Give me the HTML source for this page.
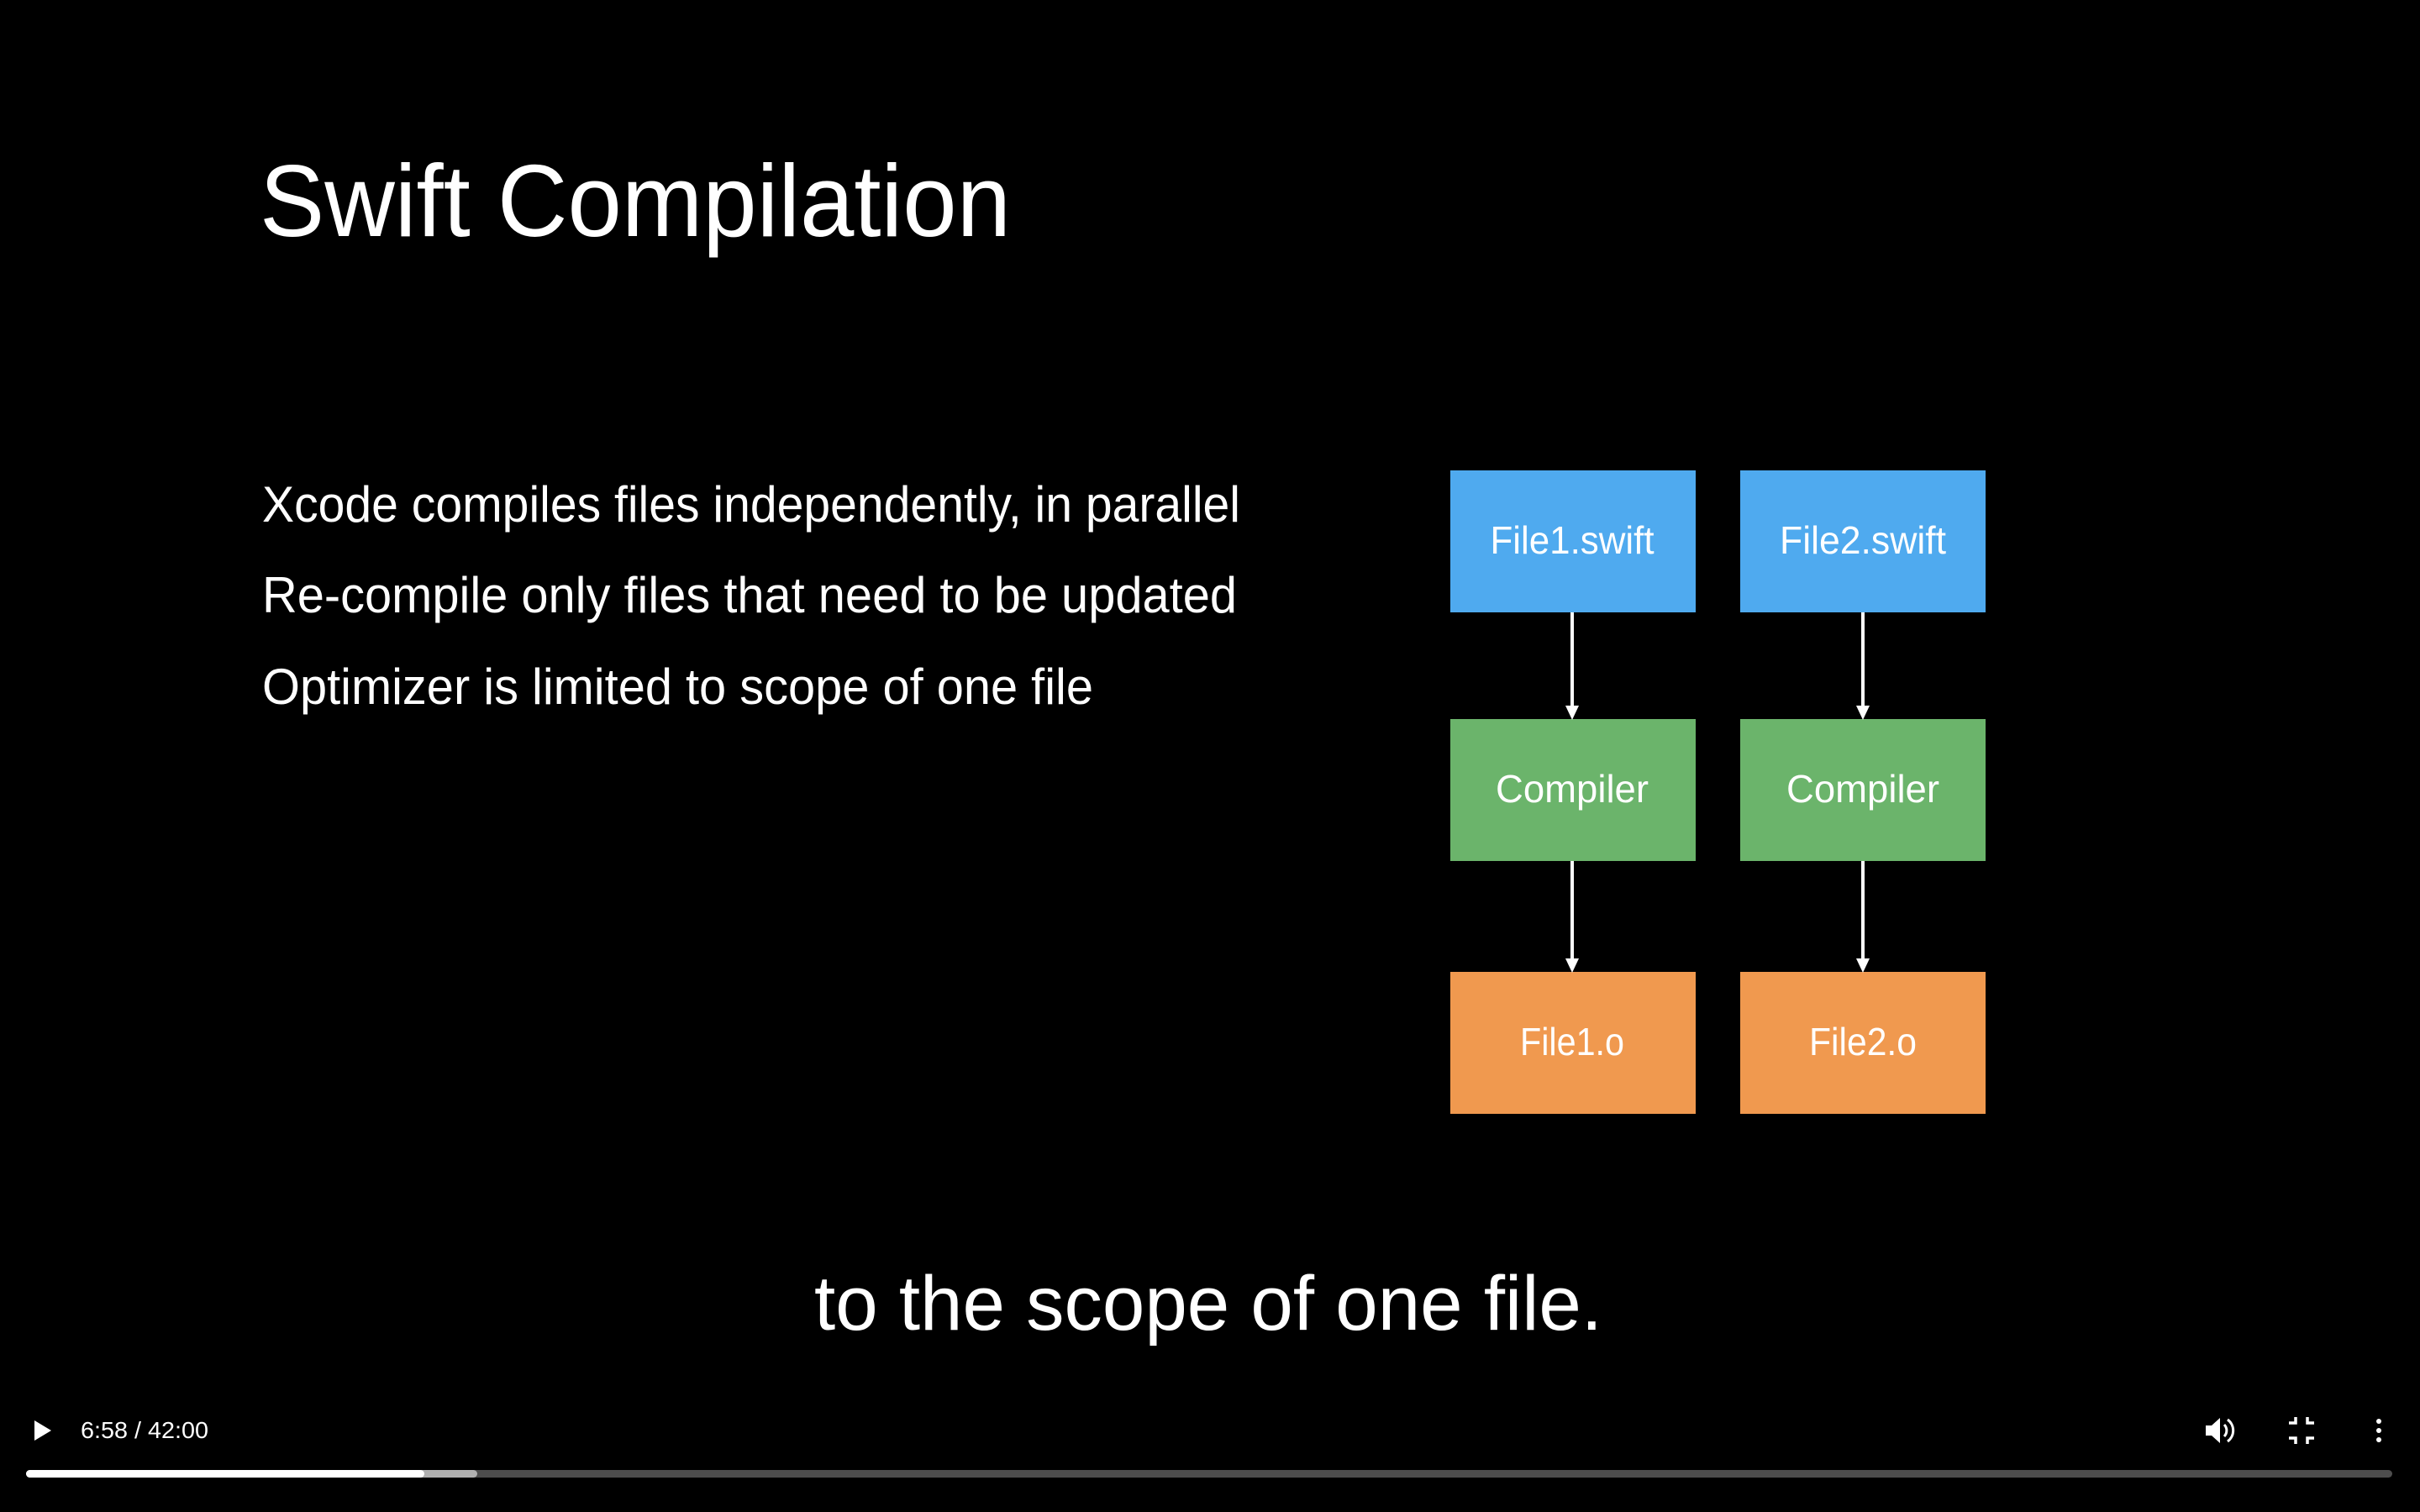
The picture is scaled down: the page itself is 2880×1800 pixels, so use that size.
<!DOCTYPE html>
<html><head><style>
html,body{margin:0;padding:0;background:#000;width:2880px;height:1800px;overflow:hidden}
svg{display:block}
text{font-family:"Liberation Sans",sans-serif;fill:#fff}
</style></head><body>
<svg width="2880" height="1800" viewBox="0 0 2880 1800" xmlns="http://www.w3.org/2000/svg">
<rect width="2880" height="1800" fill="#000"/>
<text x="309" y="281" font-size="122" textLength="894" lengthAdjust="spacingAndGlyphs">Swift Compilation</text>
<g font-size="60" fill="#eee">
<text x="312" y="621" textLength="1164" lengthAdjust="spacingAndGlyphs">Xcode compiles files independently, in parallel</text>
<text x="312" y="729" textLength="1160" lengthAdjust="spacingAndGlyphs">Re-compile only files that need to be updated</text>
<text x="312" y="838" textLength="989" lengthAdjust="spacingAndGlyphs">Optimizer is limited to scope of one file</text>
</g>
<g>
<rect x="1726" y="560" width="292" height="169" fill="#4faaef"/>
<rect x="2071" y="560" width="292" height="169" fill="#4faaef"/>
<rect x="1726" y="856" width="292" height="169" fill="#6bb46b"/>
<rect x="2071" y="856" width="292" height="169" fill="#6bb46b"/>
<rect x="1726" y="1157" width="292" height="169" fill="#f0994f"/>
<rect x="2071" y="1157" width="292" height="169" fill="#f0994f"/>
</g>
<g stroke="#fff" stroke-width="4">
<line x1="1871" y1="729" x2="1871" y2="842"/>
<line x1="2217" y1="729" x2="2217" y2="842"/>
<line x1="1871" y1="1025" x2="1871" y2="1143"/>
<line x1="2217" y1="1025" x2="2217" y2="1143"/>
</g>
<g fill="#fff">
<polygon points="1863,840 1879,840 1871,857"/>
<polygon points="2209,840 2225,840 2217,857"/>
<polygon points="1863,1141 1879,1141 1871,1158"/>
<polygon points="2209,1141 2225,1141 2217,1158"/>
</g>
<g font-size="46" text-anchor="middle" fill="#f4f4f4">
<text x="1871" y="659" textLength="195" lengthAdjust="spacingAndGlyphs">File1.swift</text>
<text x="2217" y="659" textLength="198" lengthAdjust="spacingAndGlyphs">File2.swift</text>
<text x="1871" y="955" textLength="182" lengthAdjust="spacingAndGlyphs">Compiler</text>
<text x="2217" y="955" textLength="182" lengthAdjust="spacingAndGlyphs">Compiler</text>
<text x="1871" y="1256" textLength="124" lengthAdjust="spacingAndGlyphs">File1.o</text>
<text x="2217" y="1256" textLength="128" lengthAdjust="spacingAndGlyphs">File2.o</text>
</g>
<text x="1438" y="1583" font-size="92" text-anchor="middle" textLength="938" lengthAdjust="spacingAndGlyphs">to the scope of one file.</text>
<polygon points="41,1691 41,1715 61,1703" fill="#fff"/>
<text x="96" y="1712" font-size="28" textLength="152" lengthAdjust="spacingAndGlyphs">6:58 / 42:00</text>
<rect x="31" y="1750" width="2816" height="9" rx="4.5" fill="#4d4d4d"/>
<rect x="31" y="1750" width="537" height="9" rx="4.5" fill="#b0b0b0"/>
<rect x="31" y="1750" width="474" height="9" rx="4.5" fill="#fff"/>
<g fill="#fff">
<polygon points="2625,1697 2632,1697 2642,1688 2642,1718 2632,1709 2625,1709"/>
<path d="M2647,1696 a10,10 0 0 1 0,14" stroke="#fff" stroke-width="3" fill="none"/>
<path d="M2651,1690 a16,16 0 0 1 0,26" stroke="#fff" stroke-width="3" fill="none"/>
<path d="M2724,1694 h8 v-7 M2746,1687 v7 h8 M2724,1712 h8 v7 M2746,1719 v-7 h8" stroke="#fff" stroke-width="3.5" fill="none"/>
<circle cx="2831" cy="1692" r="3"/><circle cx="2831" cy="1703" r="3"/><circle cx="2831" cy="1714" r="3"/>
</g>
</svg>
</body></html>
